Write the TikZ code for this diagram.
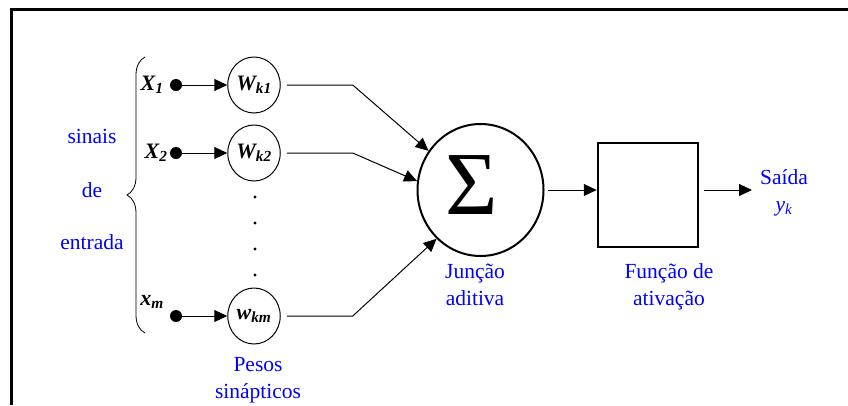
\documentclass[tikz,border=0pt]{standalone}
\usepackage{fontspec}
\setmainfont{Liberation Serif}
\usetikzlibrary{positioning,calc,arrows.meta,shapes.geometric,decorations.pathreplacing}
\definecolor{labelblue}{RGB}{0,0,255}

\begin{document}
\begin{tikzpicture}[x=1pt, y=-1pt,
		lbl/.style={text=labelblue, font=\fontsize{21.5}{27}\selectfont, align=center, inner sep=0pt},
		inlabel/.style={inner sep=0pt, font=\fontsize{22}{22}\selectfont\bfseries\itshape},
		weight/.style={ellipse, draw, line width=1pt, minimum width=52.5pt, minimum height=56pt, inner sep=0pt, font=\fontsize{22}{22}\selectfont\bfseries\itshape},
		indot/.style={circle, fill, minimum size=12pt, inner sep=0pt},
		sumnode/.style={ellipse, draw, line width=2pt, minimum width=126pt, minimum height=132pt},
		actbox/.style={draw, line width=2.5pt, minimum width=100pt, minimum height=104pt},
		link/.style={line width=1pt, -{Triangle[length=13pt,width=12pt]}}]
		\useasboundingbox (0,0) rectangle (848,405);
		\draw[line width=2.2pt] (11.5,405) -- (11.5,9.5) -- (848,9.5);

		\node[indot] (d1) at (176,85) {};
		\node[indot] (d2) at (176,153) {};
		\node[indot] (d3) at (176,316) {};
		\node[inlabel, left=6pt of d1] (x1) {X\textsubscript{1}};
		\node[inlabel, left=2pt of d2] (x2) {X\textsubscript{2}};
		\node[inlabel, anchor=base east] (xm) at (164,305) {x\textsubscript{m}};

		\node[weight] (w1) at (254,85) {W\textsubscript{k1}};
		\node[weight] (w2) at (254,153) {W\textsubscript{k2}};
		\node[weight] (wm) at (254,316) {w\textsubscript{km}};
		\foreach \y in {197,223,249,275}
			\fill (255,\y) circle (1.6pt);

		\draw[link] (d1) -- (w1);
		\draw[link] (d2) -- (w2);
		\draw[link] (d3) -- (wm);

		\node[sumnode] (sum) at (480.5,190) {};
		\node[inner sep=0pt, font=\fontsize{90}{90}\selectfont] (sigma) at (472,185) {Σ};
		\draw[link, shorten <=6pt] (w1.east) -- ++(72,0) -- (sum.143);
		\draw[link, shorten <=6pt] (w2.east) -- ++(72,0) -- (sum.172);
		\draw[link, shorten <=6pt] (wm.east) -- ++(72,0) -- (sum.228);

		\node[actbox] (act) at (648,195) {};
		\coordinate (out) at (752,190);
		\draw[link, shorten <=3pt] (sum.east) -- (sum.east -| act.west);
		\draw[link, shorten <=5pt] (sum.east -| act.east) -- (out);

		\draw[line width=0.8pt, decorate, decoration={brace, amplitude=18pt}] (145,333) -- (145,57);

		\node[lbl, anchor=base] (sinais) at (92,143) {sinais};
		\node[lbl, anchor=base] (de) at (92,197) {de};
		\node[lbl, anchor=base] (entrada) at (92,249) {entrada};
		\node[lbl] (pesos) at (258,380) {Pesos\\sinápticos};
		\node[lbl] (juncao) at (475,285) {Junção\\aditiva};
		\node[lbl] (funcao) at (669,287) {Função de\\ativação};
		\node[lbl] (saida) at (784,193) {Saída\\\textit{y}\textsubscript{\textit{k}}};
	\end{tikzpicture}
\end{document}
